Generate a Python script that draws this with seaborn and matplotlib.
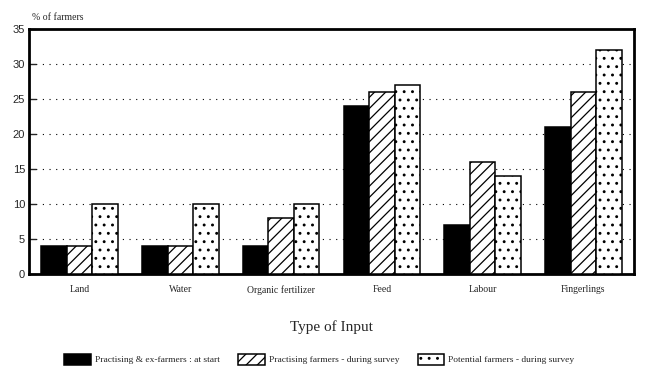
import pandas as pd
import matplotlib
matplotlib.use('Agg')
import matplotlib.pyplot as plt
import seaborn as sns

inputs = ['Land', 'Water', 'Organic fertilizer', 'Feed', 'Labour', 'Fingerlings']
groups = ['Practising & ex-farmers : at start',
          'Practising farmers - during survey',
          'Potential farmers - during survey']
at_start = [4, 4, 4, 24, 7, 21]
practising_survey = [4, 4, 8, 26, 16, 26]
potential_survey = [10, 10, 10, 27, 14, 32]

yticks = [0, 5, 10, 15, 20, 25, 30, 35]

df = pd.DataFrame({
    'Input': inputs * 3,
    'Group': [groups[0]] * 6 + [groups[1]] * 6 + [groups[2]] * 6,
    'Pct': at_start + practising_survey + potential_survey,
})

sns.set_style('white')
plt.rcParams['font.family'] = ['Liberation Serif', 'DejaVu Serif']
plt.rcParams['hatch.linewidth'] = 0.9

fig = plt.figure(figsize=(6.5, 3.8), dpi=100)
ax = fig.add_axes([0.045, 0.279, 0.93, 0.645])

sns.barplot(data=df, x='Input', y='Pct', hue='Group', order=inputs, hue_order=groups,
            palette=['black', 'white', 'white'], width=0.76, edgecolor='black',
            linewidth=1.1, legend=False, ax=ax, zorder=3)

hatches = ['', '///', '..']
for cont, h in zip(ax.containers, hatches):
    for p in cont.patches:
        p.set_hatch(h)
        p.set_edgecolor('black')

ax.set_ylim(0, 35)
ax.set_yticks(yticks)
ax.set_yticklabels([str(t) for t in yticks], family=['Liberation Sans'], fontsize=8)
ax.tick_params(axis='y', direction='in', length=5, width=1, pad=3, left=True)
ax.tick_params(axis='x', length=0, labelsize=7, pad=8)

for t in yticks[1:-1]:
    ax.axhline(t, color='black', linestyle=(0, (1, 5)), linewidth=0.8, zorder=1)

for s in ax.spines.values():
    s.set_visible(True)
    s.set_color('black')
    s.set_linewidth(2)

ax.set_xlabel('Type of Input', fontsize=11, labelpad=18)
ax.set_ylabel('')
ax.text(0.005, 1.03, '% of farmers', transform=ax.transAxes, fontsize=7, ha='left', va='bottom')

ax.legend(ax.containers, groups, loc='upper center', bbox_to_anchor=(0.48, -0.29),
          ncol=3, frameon=False, fontsize=6.8, handlelength=2.8, handleheight=1.5,
          columnspacing=2.0, handletextpad=0.4)

fig.savefig('out.png', dpi=100)
